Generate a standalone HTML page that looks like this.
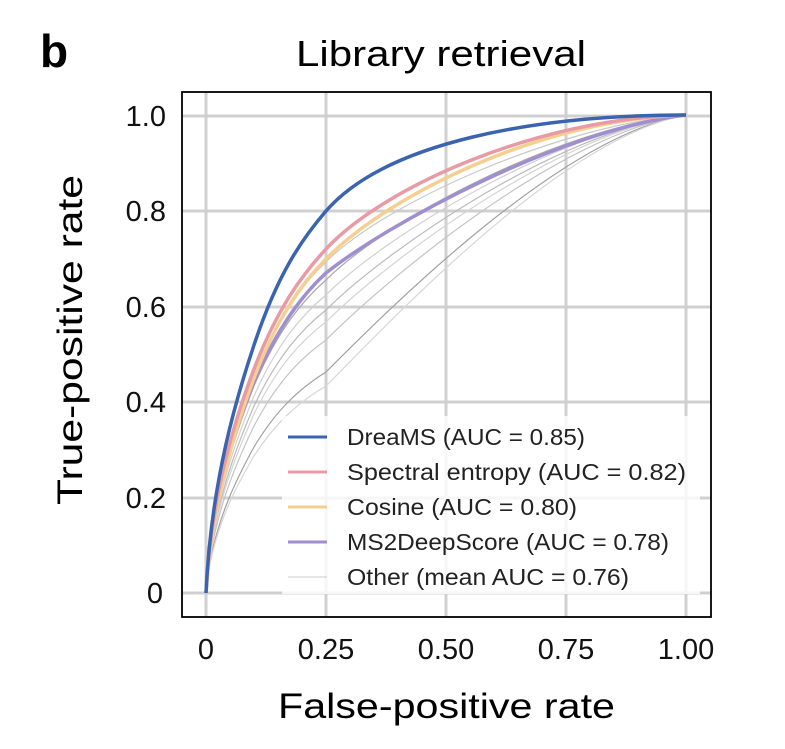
<!DOCTYPE html>
<html><head><meta charset="utf-8"><style>body{margin:0;background:#fff}svg{display:block}</style></head>
<body>
<svg width="785" height="749" xmlns="http://www.w3.org/2000/svg" font-family="Liberation Sans, sans-serif">
<rect width="785" height="749" fill="#fff"/>
<text x="40" y="67" font-size="46" font-weight="bold">b</text>
<text x="296" y="66" font-size="36" textLength="290" lengthAdjust="spacingAndGlyphs">Library retrieval</text>
<g stroke="#d0d0d0" stroke-width="3">
<line x1="206" y1="92" x2="206" y2="617"/><line x1="326" y1="92" x2="326" y2="617"/><line x1="446" y1="92" x2="446" y2="617"/><line x1="566" y1="92" x2="566" y2="617"/><line x1="686" y1="92" x2="686" y2="617"/>
<line x1="182" y1="116" x2="711" y2="116"/><line x1="182" y1="211" x2="711" y2="211"/><line x1="182" y1="307" x2="711" y2="307"/><line x1="182" y1="402" x2="711" y2="402"/><line x1="182" y1="498" x2="711" y2="498"/><line x1="182" y1="593" x2="711" y2="593"/>
</g>
<g fill="none" stroke-width="1.2">
<path stroke="#c8c8c8" d="M206,593 C211,495 238,419 254,375 C278,315 302,285 326,262 C386,202 560,125 686,115"/>
<path stroke="#a8a8a8" d="M206,593 C211,500 238,427 254,386 C278,330 302,301 326,280 C386,220 560,127 686,115"/>
<path stroke="#d0d0d0" d="M206,593 C211,504 238,435 254,396 C278,342 302,315 326,295 C386,235 560,129 686,115"/>
<path stroke="#bababa" d="M206,593 C211,509 238,443 254,406 C278,355 302,329 326,310 C386,250 560,130 686,115"/>
<path stroke="#d4d4d4" d="M206,593 C211,512 238,450 254,414 C278,365 302,340 326,322 C386,262 560,131 686,115"/>
<path stroke="#c4c4c4" d="M206,593 C211,518 238,459 254,426 C278,380 302,357 326,340 C386,280 560,133 686,115"/>
<path stroke="#a0a0a0" d="M206,593 C211,527 238,476 254,447 C278,407 302,387 326,372 C386,312 560,136 686,115"/>
<path stroke="#d6d6d6" d="M206,593 C211,531 238,483 254,456 C278,419 302,400 326,386 C386,326 560,138 686,115"/>
</g>
<g fill="none" stroke-width="3.5">
<path stroke="#a08fd0" d="M206,593 C211,500 238,419 254,382 C278,327 302,295 326,273 C386,225 560,130 686,115"/>
<path stroke="#f5cf90" d="M206,593 C212,500 238,420 254,378 C278,316 302,283 326,259 C386,197 540,119 686,115"/>
<path stroke="#e89aa5" d="M206,593 C211,490 238,411 254,369 C278,307 302,275 326,249 C386,185 540,118 686,115"/>
<path stroke="#3a63b0" d="M206,593 C211,480 238,393 254,345 C278,273 302,239 326,211 C386,142 536,115 686,115"/>
</g>
<rect x="282" y="416" width="418" height="178" fill="#fff" fill-opacity="0.8"/>
<rect x="182" y="92" width="529" height="525" fill="none" stroke="#000" stroke-width="1.8"/>
<g font-size="23" fill="#222">
<line x1="288" y1="437" x2="327" y2="437" stroke="#3a63b0" stroke-width="3"/><text x="347" y="445" textLength="238" lengthAdjust="spacingAndGlyphs">DreaMS (AUC = 0.85)</text>
<line x1="288" y1="472" x2="327" y2="472" stroke="#e89aa5" stroke-width="3"/><text x="347" y="480" textLength="339" lengthAdjust="spacingAndGlyphs">Spectral entropy (AUC = 0.82)</text>
<line x1="288" y1="507" x2="327" y2="507" stroke="#f5cf90" stroke-width="3"/><text x="347" y="515" textLength="230" lengthAdjust="spacingAndGlyphs">Cosine (AUC = 0.80)</text>
<line x1="288" y1="542" x2="327" y2="542" stroke="#a08fd0" stroke-width="3"/><text x="347" y="550" textLength="322" lengthAdjust="spacingAndGlyphs">MS2DeepScore (AUC = 0.78)</text>
<line x1="288" y1="577" x2="327" y2="577" stroke="#ccc" stroke-width="1"/><text x="347" y="585" textLength="282" lengthAdjust="spacingAndGlyphs">Other (mean AUC = 0.76)</text>
</g>
<g font-size="29" fill="#111">
<text x="166" y="126" text-anchor="end">1.0</text><text x="166" y="221" text-anchor="end">0.8</text><text x="166" y="317" text-anchor="end">0.6</text><text x="166" y="412" text-anchor="end">0.4</text><text x="166" y="508" text-anchor="end">0.2</text><text x="163" y="603" text-anchor="end">0</text>
<text x="206" y="659" text-anchor="middle">0</text><text x="326" y="659" text-anchor="middle">0.25</text><text x="446" y="659" text-anchor="middle">0.50</text><text x="566" y="659" text-anchor="middle">0.75</text><text x="686" y="659" text-anchor="middle">1.00</text>
</g>
<text x="278" y="718" font-size="35" textLength="337" lengthAdjust="spacingAndGlyphs">False-positive rate</text>
<text transform="translate(82,505) rotate(-90)" font-size="35" textLength="330" lengthAdjust="spacingAndGlyphs">True-positive rate</text>
</svg>
</body></html>
